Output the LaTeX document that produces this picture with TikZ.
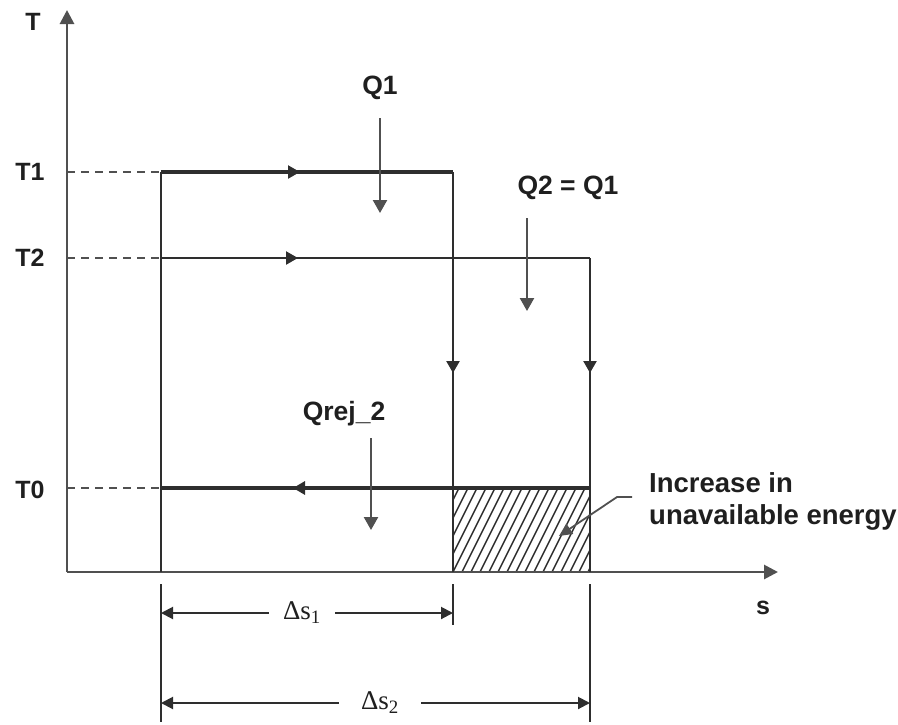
\documentclass[tikz,border=0pt]{standalone}
\usepackage{fontspec}
\setmainfont{Liberation Sans}
\newfontfamily\dimfont{Liberation Serif}
\usetikzlibrary{arrows.meta}
\definecolor{ln}{HTML}{2E2E2E}
\definecolor{ax}{HTML}{505050}
\begin{document}
\begin{tikzpicture}[x=1pt,y=-1pt,
  lbl/.style={font=\fontsize{25}{28}\selectfont\bfseries, text=black!88, inner sep=0pt},
  qlbl/.style={font=\fontsize{26.5}{30}\selectfont\bfseries, text=black!88, inner sep=0pt},
  dimlbl/.style={font=\dimfont\fontsize{27}{30}\selectfont, text=black!88, fill=white, inner sep=5pt},
  tipf/.style={-{Triangle[length=12pt,width=13pt]}},
  diml/.style={{Triangle[length=12pt,width=12pt]}-{Triangle[length=12pt,width=12pt]}, line width=2pt, draw=ln},
  thin/.style={line width=2.3pt, draw=ln},
  heavy/.style={line width=4.8pt, draw=ln},
  dashl/.style={dashed, dash pattern=on 8pt off 6pt, line width=1.8pt, draw=ax},
  qarrow/.style={line width=2.4pt, draw=ax, -{Triangle[length=13pt,width=14pt]}}
]
\useasboundingbox (0,0) rectangle (898,724);
% points
\coordinate (O) at (67,572);
\coordinate (Ytop) at (67,10);
\coordinate (Xend) at (778,572);
\coordinate (y1) at (67,172);
\coordinate (y2) at (67,258);
\coordinate (y0) at (67,488);
\coordinate (a1) at (161,172);
\coordinate (b1) at (453,172);
\coordinate (a2) at (161,258);
\coordinate (b2) at (453,258);
\coordinate (c2) at (590,258);
\coordinate (a0) at (161,488);
\coordinate (b0) at (453,488);
\coordinate (c0) at (590,488);
\coordinate (a) at (161,572);
\coordinate (b) at (453,572);
\coordinate (c) at (590,572);

% hatched area
\begin{scope}
\clip (b0) rectangle (c);
\foreach \i in {-8,...,16}{
  \draw[line width=1.4pt, draw=ln] (453+\i*9,572) -- ++(42,-84);
}
\end{scope}

% axes
\draw[line width=2.8pt, draw=ax, -{Triangle[length=14pt,width=14pt]}] (O) -- (Ytop);
\draw[line width=2.8pt, draw=ax, -{Triangle[length=14pt,width=14pt]}] (O) -- (Xend);

% dashed guides
\draw[dashl] (y1) -- (a1);
\draw[dashl] (y2) -- (a2);
\draw[dashl] (y0) -- (a0);

% cycle lines
\draw[thin] (a1) -- (a);
\draw[thin] (b1) -- (b);
\draw[thin] (c2) -- (c);
\draw[thin] (a2) -- (c2);
\draw[heavy] (a1) -- (b1);
\draw[heavy] (a0) -- (c0);
\draw[thin] (b0) -- (b);

% direction arrows
\draw[thin, tipf] (a1) -- (300,172);
\draw[thin, tipf] (a2) -- (298,258);
\draw[thin, tipf] (b1) -- (453,373);
\draw[thin, tipf] (c2) -- (590,373);
\draw[heavy, -{Triangle[length=12pt,width=13pt]}] (c0) -- (293,488);

% labels
\node[lbl] (lT) at (33,22) {T};
\node[lbl] (lT1) at (30,172) {T1};
\node[lbl] (lT2) at (30,258) {T2};
\node[lbl] (lT0) at (30,490) {T0};
\node[qlbl] (lQ1) at (380,88) {Q1};
\node[qlbl] (lQ2) at (568,188) {Q2 = Q1};
\node[qlbl] (lQr) at (344,414) {Qrej\_2};
\node[lbl] (ls) at (763,608) {s};
\node[lbl, anchor=west, align=left, font=\fontsize{27.5}{32}\selectfont\bfseries] (lInc) at (649,501) {Increase in\\unavailable energy};

% heat arrows
\coordinate (q1s) at (380,118);
\coordinate (q1e) at (380,213);
\coordinate (q2s) at (527,218);
\coordinate (q2e) at (527,311);
\coordinate (qrs) at (371,438);
\coordinate (qre) at (371,530);
\draw[qarrow] (q1s) -- (q1e);
\draw[qarrow] (q2s) -- (q2e);
\draw[qarrow] (qrs) -- (qre);

% leader
\coordinate (L1) at (632,497);
\coordinate (L2) at (617,497);
\coordinate (L3) at (559,536);
\draw[line width=1.8pt, draw=ax, -{Triangle[length=13pt,width=12pt]}] (L1) -- (L2) -- (L3);

% dimension lines
\coordinate (e1t) at (161,584);
\coordinate (e1b) at (161,722);
\coordinate (e2t) at (453,584);
\coordinate (e2b) at (453,625);
\coordinate (e3t) at (590,584);
\coordinate (e3b) at (590,722);
\draw[thin] (e1t) -- (e1b);
\draw[thin] (e2t) -- (e2b);
\draw[thin] (e3t) -- (e3b);
\coordinate (d1a) at (161,613);
\coordinate (d1b) at (453,613);
\coordinate (d2a) at (161,703);
\coordinate (d2b) at (590,703);
\draw[diml] (d1a) -- (d1b);
\draw[diml] (d2a) -- (d2b);
\node[dimlbl, inner xsep=14pt] (ds1) at (302,613) {Δs\textsubscript{1}};
\node[dimlbl, inner xsep=22pt] (ds2) at (380,703) {Δs\textsubscript{2}};
\end{tikzpicture}
\end{document}
